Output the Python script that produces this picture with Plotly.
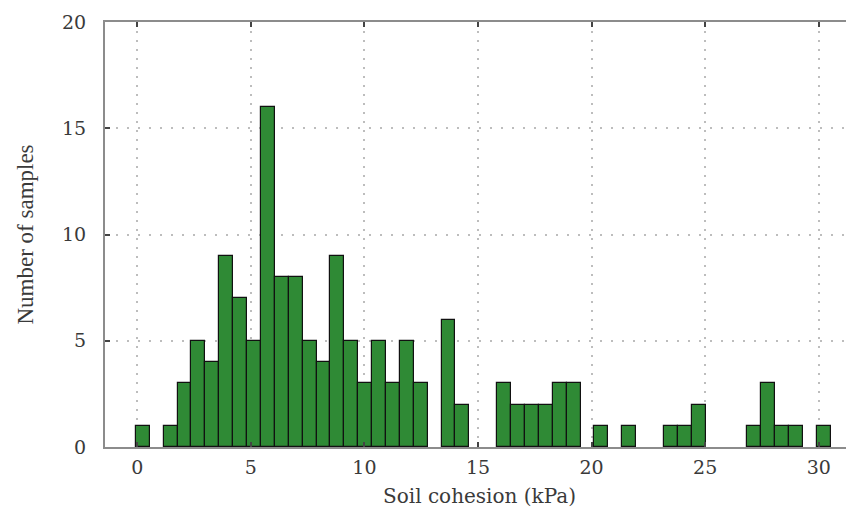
import plotly.graph_objects as go

# Histogram of soil cohesion (kPa): 50 bins
bin_start = -0.06
bin_width = 0.6116
counts = [1, 0, 1, 3, 5, 4, 9, 7, 5, 16,
          8, 8, 5, 4, 9, 5, 3, 5, 3, 5,
          3, 0, 6, 2, 0, 0, 3, 2, 2, 2,
          3, 3, 0, 1, 0, 1, 0, 0, 1, 1,
          2, 0, 0, 0, 1, 3, 1, 1, 0, 1]
x_ticks = [0, 5, 10, 15, 20, 25, 30]
y_ticks = [0, 5, 10, 15, 20]

# keep only non-empty bins so empty bins draw no outline
xs, ys = [], []
for i, c in enumerate(counts):
    if c > 0:
        xs.append(bin_start + i * bin_width)
        ys.append(c)

fig = go.Figure(go.Bar(
    x=xs, y=ys, width=bin_width, offset=0,
    marker=dict(color="#2f8a35", line=dict(color="#111111", width=1.2)),
))

tick_font = "DejaVu Serif, Liberation Serif, serif"
ytitle_font = "Liberation Serif, serif"
grid_color = "#bdbdbd"
fig.update_layout(
    width=846, height=502,
    margin=dict(l=97, r=0, t=14, b=63, autoexpand=False),
    paper_bgcolor="white", plot_bgcolor="white",
    showlegend=False, bargap=0,
    font=dict(family=tick_font, color="#333333"),
)
fig.update_xaxes(
    range=[-1.42, 31.55], tickvals=x_ticks, ticktext=[str(v) for v in x_ticks],
    showgrid=True, gridcolor=grid_color, griddash="2px,7px", gridwidth=1.5,
    showline=True, linecolor="#8c8c8c", linewidth=2, mirror="ticks",
    ticks="inside", ticklen=5, tickcolor="#444444", tickwidth=2,
    tickfont=dict(size=19, family=tick_font, color="#3a3a3a"),
    ticklabelstandoff=2,
    title=dict(text="Soil cohesion (kPa)", font=dict(size=20, family=tick_font, color="#3a3a3a"), standoff=12),
    zeroline=False, automargin=False,
)
fig.update_yaxes(
    range=[0, 20], tickvals=y_ticks, ticktext=[str(v) for v in y_ticks],
    showgrid=True, gridcolor=grid_color, griddash="2px,9px", gridwidth=1.5,
    showline=True, linecolor="#8c8c8c", linewidth=2, mirror="ticks",
    ticks="inside", ticklen=5, tickcolor="#444444", tickwidth=2,
    tickfont=dict(size=19, family=tick_font, color="#3a3a3a"),
    ticklabelstandoff=13,
    title=dict(text="Number of samples", font=dict(size=23, family=ytitle_font, color="#3a3a3a"), standoff=22),
    zeroline=False, automargin=False,
)

fig.write_html("out.html")
